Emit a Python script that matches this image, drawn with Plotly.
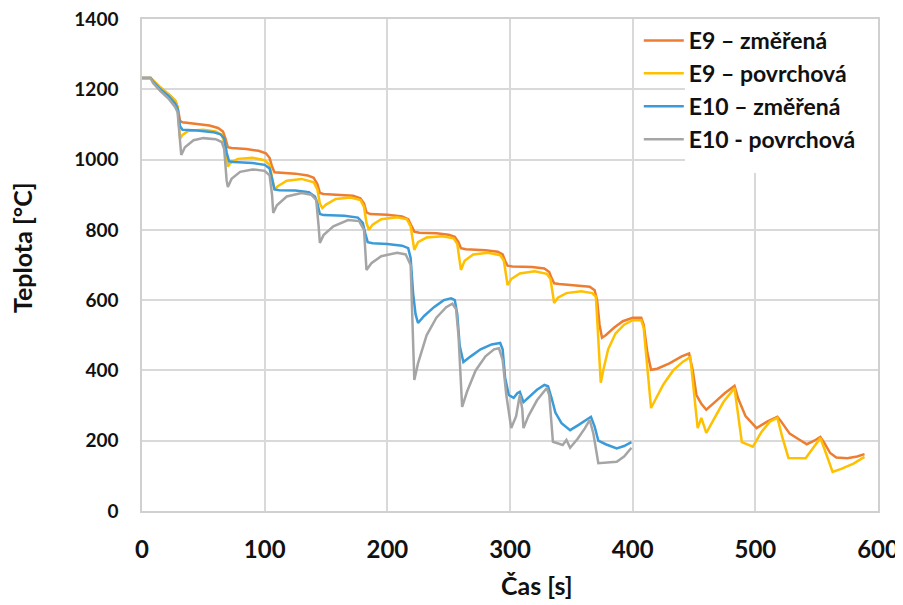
import plotly.graph_objects as go

# ---------------- data ----------------
e9_meas_t = [0, 7, 9, 15, 22, 27, 29, 31, 33, 45, 55, 62, 66, 68, 70, 73, 85, 95, 101, 104, 106, 108, 112, 125, 135, 140, 143, 145, 148, 160, 172, 178, 181, 183, 186, 200, 212, 217, 220, 222, 226, 240, 250, 255, 258, 260, 264, 280, 290, 294, 296, 298, 302, 318, 328, 332, 334, 336, 340, 355, 365, 369, 371, 373, 375, 378, 385, 392, 400, 407, 409, 412, 415, 420, 430, 440, 446, 449, 452, 456, 460, 467, 475, 483, 486, 492, 501, 510, 518, 521, 528, 535, 542, 548, 553, 556, 561, 566, 575, 583, 589]
e9_meas_T = [1232, 1232, 1225, 1205, 1185, 1168, 1150, 1110, 1106, 1102, 1097, 1090, 1080, 1060, 1035, 1033, 1030, 1025, 1018, 1005, 980, 964, 963, 960, 955, 948, 930, 905, 902, 900, 897, 890, 875, 850, 845, 843, 838, 830, 810, 795, 792, 790, 786, 780, 765, 748, 745, 742, 738, 730, 712, 698, 696, 694, 690, 680, 662, 648, 646, 642, 638, 628, 600, 530, 493, 500, 522, 540, 550, 550, 530, 450, 402, 405, 420, 440, 448, 400, 330, 305, 288, 310, 335, 356, 320, 270, 236, 255, 268, 255, 220, 205, 190, 200, 211, 195, 165, 152, 150, 155, 162]

e9_surf_t = [0, 7, 9, 15, 22, 27, 29, 31, 33, 38, 50, 60, 65, 68, 70, 72, 78, 90, 100, 104, 106, 108, 111, 118, 130, 140, 143, 145, 147, 150, 158, 170, 178, 181, 183, 185, 188, 195, 208, 216, 219, 221, 222, 225, 232, 245, 254, 257, 259, 260, 263, 270, 282, 292, 295, 297, 298, 301, 308, 320, 330, 333, 335, 336, 339, 346, 358, 367, 370, 372, 374, 376, 380, 386, 393, 400, 407, 409, 412, 415, 419, 425, 433, 441, 447, 450, 453, 456, 460, 466, 474, 483, 486, 489, 498, 505, 512, 518, 522, 527, 541, 547, 553, 557, 563, 570, 580, 589]
e9_surf_T = [1232, 1232, 1225, 1205, 1185, 1168, 1150, 1060, 1070, 1082, 1085, 1080, 1070, 1040, 980, 990, 1002, 1005, 998, 985, 950, 915, 925, 940, 945, 935, 915, 875, 862, 872, 888, 892, 885, 865, 820, 800, 815, 830, 836, 830, 810, 760, 743, 765, 778, 782, 776, 760, 710, 686, 712, 730, 735, 728, 712, 660, 643, 660, 676, 682, 675, 660, 610, 592, 607, 620, 625, 620, 610, 500, 365, 400, 460, 505, 530, 543, 543, 520, 400, 293, 320, 360, 400, 425, 438, 340, 236, 265, 222, 260, 310, 350, 280, 196, 183, 225, 255, 265, 210, 151, 150, 180, 208, 170, 111, 120, 135, 154]

e10_meas_t = [0, 7, 9, 15, 22, 27, 29, 31, 33, 45, 58, 64, 67, 69, 71, 75, 90, 100, 104, 106, 108, 112, 125, 136, 141, 143, 145, 148, 165, 176, 180, 182, 184, 188, 200, 212, 217, 219, 221, 223, 225, 230, 238, 246, 252, 255, 257, 259, 262, 268, 276, 285, 292, 294, 296, 299, 303, 306, 308, 311, 316, 322, 328, 331, 334, 337, 342, 349, 356, 362, 366, 369, 372, 378, 387, 393, 399]
e10_meas_T = [1232, 1232, 1222, 1200, 1180, 1160, 1145, 1095, 1085, 1083, 1078, 1072, 1060, 1020, 995, 993, 990, 985, 975, 945, 915, 913, 912, 907, 895, 875, 845, 842, 840, 835, 820, 790, 765, 762, 760, 755, 748, 720, 620, 560, 535, 555, 580, 600, 605, 600, 560, 470, 424, 440, 460, 474, 478, 460, 380, 330, 322, 335, 339, 310, 325, 345, 359, 355, 320, 280, 250, 230, 245, 260, 268, 240, 200, 190, 178, 185, 196]

e10_surf_t = [0, 7, 9, 15, 22, 27, 29, 31, 32, 35, 42, 50, 60, 65, 67, 69, 70, 73, 80, 90, 100, 104, 106, 107, 110, 118, 130, 138, 142, 144, 145, 148, 156, 168, 177, 181, 182, 183, 187, 195, 208, 215, 219, 221, 222, 225, 232, 240, 248, 253, 256, 258, 260, 261, 265, 272, 280, 287, 291, 294, 297, 301, 305, 308, 310, 311, 315, 322, 330, 332, 335, 343, 346, 349, 355, 361, 365, 368, 372, 380, 387, 393, 399]
e10_surf_T = [1232, 1232, 1218, 1195, 1172, 1150, 1135, 1040, 1013, 1035, 1055, 1061, 1058, 1050, 1030, 940, 922, 945, 965, 972, 968, 955, 900, 848, 870, 895, 905, 900, 885, 810, 763, 785, 810, 828, 825, 800, 740, 686, 705, 725, 735, 730, 700, 500, 373, 420, 500, 550, 580, 590, 575, 500, 340, 296, 340, 400, 440, 460, 463, 430, 330, 236, 270, 330, 290, 236, 270, 315, 350, 330, 197, 188, 202, 180, 205, 235, 259, 220, 136, 138, 140, 155, 180]

series_names = ["E9 – změřená", "E9 – povrchová", "E10 – změřená", "E10 - povrchová"]
series_colors = ["#ED7D31", "#FFC000", "#3A9BD8", "#A5A5A5"]

x_ticks = [0, 100, 200, 300, 400, 500, 600]
y_ticks = [0, 200, 400, 600, 800, 1000, 1200, 1400]

x_title = "Čas [s]"
y_title = "Teplota [°C]"

# ---------------- figure ----------------
FONT = "Lato, 'Open Sans', sans-serif"

fig = go.Figure()
data = [(e9_meas_t, e9_meas_T), (e9_surf_t, e9_surf_T), (e10_meas_t, e10_meas_T), (e10_surf_t, e10_surf_T)]
for i, ((t, T), name, col) in enumerate(zip(data, series_names, series_colors)):
    fig.add_trace(go.Scatter(x=t, y=T, mode="lines", name=name,
                             line=dict(color=col, width=2.5),
                             legendgroup=f"g{i}"))

# page body has an 8px margin -> compensate
fig.update_layout(
    width=895, height=597,
    margin=dict(l=134, r=25, t=11, b=94, autoexpand=False),
    paper_bgcolor="white", plot_bgcolor="white",
    font=dict(family=FONT, color="#111111"),
    showlegend=True,
    legend=dict(x=0.675, y=1.0, xanchor="left", yanchor="top",
                bgcolor="rgba(0,0,0,0)", borderwidth=0,
                font=dict(family=FONT, size=23, color="#111111", weight="bold"),
                traceorder="grouped", tracegroupgap=0,
                itemwidth=40),
    xaxis=dict(range=[0, 600], tickvals=x_ticks, ticktext=[str(v) for v in x_ticks],
               showgrid=True, gridcolor="#D9D9D9", gridwidth=1.5,
               showline=True, linecolor="#D0D0D0", linewidth=1.5, mirror=True,
               zeroline=False, ticks="", ticklabelstandoff=16, automargin=False,
               ticklabeloverflow="allow",
               tickfont=dict(family=FONT, size=24, color="#111111", weight="bold")),
    yaxis=dict(range=[0, 1400], tickvals=y_ticks, ticktext=[str(v) for v in y_ticks],
               showgrid=True, gridcolor="#D9D9D9", gridwidth=1.5,
               showline=True, linecolor="#D0D0D0", linewidth=1.5, mirror=True,
               zeroline=False, ticks="", ticklabelstandoff=18, automargin=False,
               ticklabeloverflow="allow",
               tickfont=dict(family=FONT, size=19, color="#111111", weight="bold")),
)

# white legend background (text area only, as in the original)
fig.add_shape(type="rect", xref="paper", yref="paper",
              x0=(685 - 142) / 736, x1=1.0, y0=(511 - 173) / 492, y1=1.0,
              fillcolor="white", line=dict(width=0), layer="above")

fig.add_annotation(text=x_title, xref="paper", yref="paper",
                   x=(536 - 142) / 736, y=(511 - 585) / 492,
                   showarrow=False, xanchor="center", yanchor="middle",
                   font=dict(family=FONT, size=25, color="#111111", weight="bold"))
fig.add_annotation(text=y_title, xref="paper", yref="paper",
                   x=(22 - 142) / 736, y=(511 - 248) / 492, textangle=-90,
                   showarrow=False, xanchor="center", yanchor="middle",
                   font=dict(family=FONT, size=25, color="#111111", weight="bold"))

fig.write_html("out.html")
